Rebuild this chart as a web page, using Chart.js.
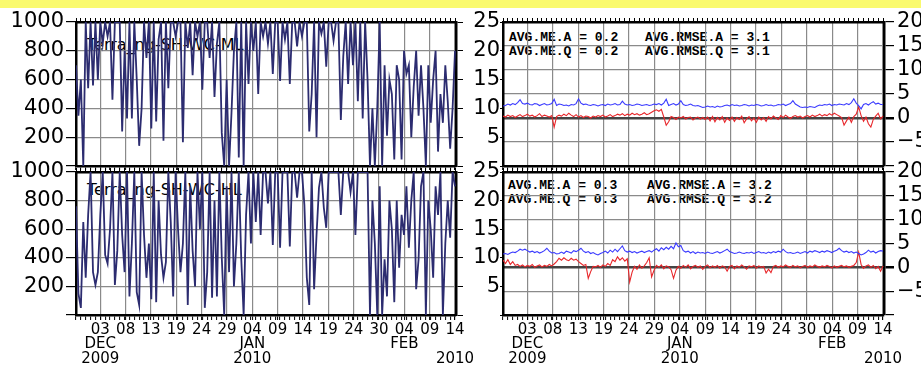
<!DOCTYPE html>
<html>
<head>
<meta charset="utf-8">
<script src="https://cdn.jsdelivr.net/npm/chart.js@4.4.1/dist/chart.umd.min.js"></script>
<style>
  body { margin: 0; background: #fff; width: 921px; height: 382px; overflow: hidden; position: relative; }
  #banner { position: absolute; left: 0; top: 0; width: 921px; height: 8px; background: #fafa6e; }
  canvas { position: absolute; z-index: 1; }
  .name { position: absolute; font: 16px 'DejaVu Sans'; line-height: 16px; color: #000; white-space: pre; z-index: 0; }
  .stat { position: absolute; font: bold 13px 'Liberation Mono'; line-height: 14px; color: #000; white-space: pre; z-index: 0; }
</style>
</head>
<body>
<div id="banner"></div>
<div class="name" style="left:87px;top:37px">Terra_ng-SH-WC-ML</div>
<div class="name" style="left:87px;top:182px">Terra_ng-SH-WC-HL</div>
<div class="stat" style="left:509px;top:31px">AVG.ME.A = 0.2<br>AVG.ME.Q = 0.2</div>
<div class="stat" style="left:645px;top:31px">AVG.RMSE.A = 3.1<br>AVG.RMSE.Q = 3.1</div>
<div class="stat" style="left:508px;top:179px">AVG.ME.A = 0.3<br>AVG.ME.Q = 0.3</div>
<div class="stat" style="left:647px;top:179px">AVG.RMSE.A = 3.2<br>AVG.RMSE.Q = 3.2</div>
<canvas id="cTL" width="470" height="170" style="left:0;top:0"></canvas>
<canvas id="cBL" width="482" height="232" style="left:0;top:150px"></canvas>
<canvas id="cTR" width="451" height="170" style="left:470px;top:0"></canvas>
<canvas id="cBR" width="451" height="232" style="left:470px;top:150px"></canvas>
<script>
// time axis in days from 1 Dec 2009, samples every half day
const xStart = -3;
const xStep = 0.5;
const xMin = -3;
const xMax = 75.2;
const firstTickDay = 2;
const lastTickDay = 75;
const tickLabels = [['03', 'DEC', '2009'], '08', '13', '19', '24', '29', ['04', 'JAN', '2010'],
  '09', '14', '19', '24', '30', ['04', 'FEB'], '09', ['14', '', '2010']];

// left panels (0-1000)
const seriesML = [
  700, 350, 600, 0, 1000, 540, 1000, 560, 1000, 600,
  1000, 850, 1000, 900, 1000, 460, 1000, 1000, 1000, 240,
  800, 330, 1000, 330, 1000, 600, 140, 400, 1000, 750,
  1000, 260, 1000, 310, 880, 1000, 175, 1000, 540, 1000,
  1000, 900, 1000, 1000, 165, 1000, 820, 1000, 630, 1000,
  900, 1000, 530, 1000, 1000, 750, 1000, 480, 850, 1000,
  230, 0, 600, 0, 370, 800, 1000, 60, 1000, 0,
  1000, 570, 1000, 800, 1000, 500, 1000, 900, 1000, 850,
  1000, 640, 1000, 1000, 590, 1000, 880, 1000, 570, 1000,
  1000, 830, 1000, 900, 1000, 1000, 240, 500, 1000, 200,
  1000, 920, 1000, 690, 1000, 1000, 870, 1000, 1000, 320,
  760, 1000, 570, 1000, 700, 1000, 450, 1000, 330, 1000,
  600, 0, 400, 0, 400, 1000, 0, 700, 210, 600,
  500, 45, 700, 600, 45, 800, 640, 700, 200, 550,
  800, 350, 700, 400, 0, 700, 300, 600, 800, 100,
  500, 300, 700, 450, 120, 400, 800
];
const seriesHL = [
  760, 150, 50, 650, 260, 700, 1000, 300, 210, 300,
  700, 1000, 420, 360, 600, 1000, 210, 450, 1000, 560,
  300, 1000, 130, 500, 1000, 160, 70, 1000, 560, 260,
  500, 110, 1000, 90, 800, 420, 260, 370, 1000, 650,
  130, 1000, 600, 300, 500, 1000, 70, 900, 450, 200,
  1000, 600, 1000, 50, 300, 1000, 120, 800, 130, 1000,
  400, 0, 900, 300, 1000, 200, 500, 1000, 400, 0,
  700, 1000, 500, 1000, 650, 1000, 560, 1000, 1000, 780,
  1000, 490, 1000, 1000, 470, 1000, 1000, 1000, 480, 1000,
  1000, 820, 1000, 1000, 770, 260, 70, 1000, 180, 560,
  890, 1000, 750, 610, 1000, 1000, 1000, 1000, 1000, 700,
  1000, 1000, 1000, 860, 1000, 560, 1000, 1000, 1000, 1000,
  1000, 0, 800, 500, 0, 900, 0, 390, 130, 800,
  600, 90, 800, 330, 700, 560, 900, 470, 800, 1000,
  180, 390, 900, 1000, 0, 800, 600, 260, 900, 700,
  1000, 0, 500, 800, 540, 1000, 900
];

// right panels (right axis -10..20)
const rmseTop = [
  2.5, 2.6, 2.9, 2.7, 3.0, 2.8, 3.2, 3.8, 3.0, 2.9,
  3.1, 2.8, 2.7, 3.0, 2.9, 2.6, 2.8, 3.0, 2.7, 2.8,
  3.0, 3.9, 2.6, 2.9, 2.8, 2.6, 2.7, 2.5, 2.8, 2.7,
  3.0, 4.0, 3.1, 2.8, 2.9, 2.7, 2.6, 2.8, 2.7, 2.5,
  2.7, 2.8, 2.6, 2.9, 2.7, 2.8, 3.0, 2.7, 2.8, 3.5,
  2.9, 2.7, 2.8, 2.6, 2.7, 2.9, 2.8, 2.6, 2.7, 2.8,
  2.6, 2.7, 2.9, 2.8, 3.0, 2.7, 3.1, 3.9, 2.6, 2.8,
  3.0, 2.7, 2.9, 3.6, 2.8, 2.6, 2.7, 2.9, 2.6, 2.5,
  2.6, 2.4, 2.2, 2.3, 2.5, 2.3, 2.4, 2.2, 2.5, 2.3,
  2.4, 2.6, 2.7, 2.5, 2.8, 2.6, 2.7, 2.5, 2.6, 2.8,
  2.7, 2.5, 2.7, 2.6, 2.8, 2.7, 2.5, 2.6, 2.8, 2.6,
  2.7, 2.5, 2.6, 2.8, 2.7, 2.9, 2.6, 2.8, 3.0, 3.6,
  2.9, 2.6, 2.3, 2.2, 2.3, 2.2, 2.4, 2.3, 2.2, 2.5,
  2.7, 2.6, 2.8, 2.7, 2.9, 2.6, 2.8, 2.7, 2.9, 2.8,
  2.7, 3.0, 2.8, 3.2, 4.0, 3.1, 2.6, 1.9, 2.8, 3.0,
  2.7, 3.1, 3.4, 2.9, 3.1, 2.8, 2.8
];
const meTop = [
  0.4, 0.2, 0.6, 0.3, 0.5, 0.1, 0.4, 0.7, 0.3, 0.5,
  0.8, 0.4, 0.6, 0.2, 0.5, 0.9, 0.3, 0.6, 0.4, 0.2,
  0.5, -1.9, 0.3, 0.6, 0.4, 0.8, 0.5, 1.0, 0.6, 0.3,
  0.7, 0.2, 0.5, 0.1, 0.4, 0.3, 0.0, 0.4, 0.2, 0.5,
  0.3, 0.6, 0.2, 0.4, 0.7, 0.3, 0.5, 0.8, 0.6, 0.9,
  0.5, 0.8, 0.6, 1.0, 0.7, 0.9, 0.6, 0.8, 1.1, 0.7,
  0.9, 1.2, 1.5, 1.7, 1.4, 1.8, 0.2, -1.5, -0.8, 0.3,
  0.1, -0.3, 0.2, 0.0, 0.3, -0.2, 0.1, 0.2, -0.4, 0.0,
  0.2, -0.2, 0.1, -0.3, 0.2, -0.6, 0.3, -0.8, 0.1, -0.4,
  0.3, -0.9, 0.0, -0.5, 0.2, -0.7, 0.1, -0.3, 0.4, -1.0,
  -0.2, 0.3, -0.6, 0.0, -0.9, 0.2, -0.4, 0.1, -0.7, 0.3,
  -0.2, 0.4, 0.0, -0.3, 0.5, 0.1, 0.6, 0.2, -0.1, 0.3,
  0.5, 0.2, 0.4, 0.0, 0.3, 0.5, 0.2, 0.6, 0.3, 0.5,
  0.8, 0.4, 0.7, 0.5, 0.9, 0.6, 1.0, 0.7, 0.4, 0.1,
  -1.5, -0.6, 0.2, -0.9, 0.3, 0.8, 2.3, 0.5, -0.7, 0.2,
  -1.2, -1.9, -0.3, 0.4, 1.0, -0.2, 0.4
];
const rmseBottom = [
  2.8, 2.9, 2.7, 3.0, 3.2, 3.1, 3.4, 3.8, 3.6, 3.8,
  3.5, 3.2, 3.4, 3.1, 3.3, 3.0, 3.2, 3.5, 4.0, 3.4,
  3.0, 3.1, 2.8, 2.9, 3.2, 2.9, 3.4, 3.2, 3.0, 3.5,
  3.3, 3.6, 4.0, 3.4, 3.1, 3.3, 2.9, 3.1, 2.8, 2.6,
  2.9, 3.1, 3.4, 3.0, 3.6, 3.2, 3.8, 3.3, 3.9, 4.5,
  3.5, 3.2, 3.4, 3.1, 3.3, 3.0, 3.2, 3.4, 3.1, 3.3,
  3.5, 3.2, 3.6, 3.9, 3.4, 4.1, 3.7, 4.2, 3.8, 4.4,
  3.9, 5.1, 4.3, 4.6, 3.5, 3.2, 3.4, 3.0, 3.3, 2.9,
  3.2, 3.0, 3.1, 2.9, 3.2, 3.0, 2.9, 3.1, 3.3, 3.0,
  3.2, 3.5, 3.8, 3.3, 3.1, 2.9, 3.0, 3.2, 3.0, 2.9,
  3.1, 3.0, 3.2, 2.9, 3.1, 3.3, 3.0, 3.1, 2.9, 3.2,
  3.0, 3.3, 3.1, 3.4, 3.2, 3.8, 3.3, 3.0, 3.1, 2.9,
  3.0, 3.2, 2.9, 3.1, 3.3, 3.0, 3.4, 3.2, 3.5, 3.3,
  3.1, 3.4, 3.2, 3.5, 3.3, 3.1, 3.4, 3.6, 4.0, 3.5,
  3.2, 3.4, 3.1, 3.3, 3.0, 3.2, 2.9, 2.6, 2.8, 3.1,
  3.6, 3.2, 3.4, 3.0, 3.3, 3.5, 3.4
];
const meBottom = [
  1.5, 0.8, 1.6, 0.6, 1.2, 0.4, 0.6, 0.2, 0.5, 0.1,
  0.4, 0.2, 0.6, 0.0, 0.3, 0.5, 0.1, 0.4, 0.2, 0.6,
  0.3, 0.7, 1.2, 1.9, 1.5, 2.0, 1.6, 1.4, 1.9, 1.5,
  1.7, 1.2, 0.8, 0.4, 0.6, -2.3, -0.9, 0.2, 0.1, 0.4,
  0.0, 0.5, 0.2, 0.8, 0.4, 1.6, 1.2, 2.2, 1.5, 2.0,
  1.3, 1.8, -3.1, -1.0, 0.2, -0.4, 0.5, -0.2, 0.3, 1.0,
  2.0, -2.0, -0.6, 0.4, 0.0, 0.5, -0.3, 0.3, 0.1, -0.5,
  -2.3, -0.6, 0.2, -0.2, 0.4, 0.0, 0.5, -0.3, 0.2, 0.4,
  0.0, 0.3, -0.4, 0.2, 0.5, -0.1, 0.3, 0.0, 0.4, -0.2,
  0.3, 0.1, -0.8, 0.2, 0.4, -0.3, 0.3, 0.0, 0.5, 0.1,
  -0.4, 0.3, 0.1, 0.4, -0.2, 0.3, 0.0, 0.2, -1.2, -0.4,
  -1.1, 0.2, 0.4, 0.0, 0.3, 0.1, 0.5, 0.2, 0.0, 0.4,
  0.1, 0.3, -0.1, 0.2, 0.4, 0.0, 0.3, 0.1, 0.5, 0.2,
  0.0, 0.3, 0.1, 0.4, 0.2, -0.1, 0.3, 0.0, 0.2, 0.4,
  0.1, 0.3, 0.0, 0.2, 0.4, 1.0, 3.2, 0.6, -0.2, 0.3,
  0.5, 0.0, 0.4, -0.3, 0.2, -0.8, 0.3
];

const toPoints = arr => arr.map((v, i) => ({ x: xStart + i * xStep, y: v }));

const gridGray = '#8a8a8a';
const axisFont = { family: 'DejaVu Sans', size: 21 };

function dayTicks() {
  const t = [];
  for (let d = Math.ceil(xMin); d <= Math.floor(xMax); d++) t.push({ value: d });
  return t;
}

function bottomTicks() {
  const n = tickLabels.length;
  const step = (lastTickDay - firstTickDay) / (n - 1);
  const t = dayTicks();
  tickLabels.forEach((lbl, k) => t.push({ value: firstTickDay + k * step, isMajor: true, lbl }));
  return t.sort((a, b) => a.value - b.value);
}

function noPad(s) {
  s.paddingTop = 0; s.paddingBottom = 0; s.paddingLeft = 0; s.paddingRight = 0;
}

function makeChart(id, box, showLabels, left, datasets) {
  const fixW = w => s => { s.width = w; noPad(s); };
  const fixH = h => s => { s.height = h; noPad(s); };

  const scales = {
    x: {
      type: 'linear', position: 'bottom', min: xMin, max: xMax,
      afterFit: fixH(box.bottom),
      afterBuildTicks: s => { s.ticks = bottomTicks(); },
      ticks: {
        autoSkip: false, maxRotation: 0, padding: 3, color: '#000',
        font: { family: 'DejaVu Sans', size: 15, lineHeight: 0.95 },
        callback: (v, i, ticks) => (showLabels && ticks[i].isMajor) ? ticks[i].lbl : ''
      },
      grid: {
        color: c => (c.tick && c.tick.isMajor) ? gridGray : 'rgba(0,0,0,0)',
        lineWidth: 1.2, tickColor: '#000', tickLength: 5, tickWidth: 1
      },
      border: { color: '#000', width: 2.5 }
    },
    xt: {
      type: 'linear', position: 'top', min: xMin, max: xMax,
      afterFit: fixH(box.top),
      afterBuildTicks: s => { s.ticks = dayTicks(); },
      ticks: { autoSkip: false, callback: () => '', padding: 0 },
      grid: { drawOnChartArea: false, tickColor: '#000', tickLength: 4 },
      border: { color: '#000', width: 2.5 }
    }
  };

  if (left) {
    scales.y = {
      position: 'left', min: 0, max: 1000,
      afterFit: fixW(box.left),
      ticks: { stepSize: 200, autoSkip: false, color: '#000', font: axisFont, padding: 2,
        callback: v => v === 0 ? '' : v },
      grid: { color: gridGray, lineWidth: 1.2, tickColor: '#000', tickLength: 10 },
      border: { color: '#000', width: 2.5 }
    };
    scales.yR = {
      position: 'right', min: 0, max: 1000,
      afterFit: fixW(box.right),
      ticks: { stepSize: 200, autoSkip: false, callback: () => '' },
      grid: { drawOnChartArea: false, tickColor: '#000', tickLength: 7 },
      border: { color: '#000', width: 2.5 }
    };
  } else {
    scales.yL = {
      position: 'left', min: 0, max: 25,
      afterFit: fixW(box.left),
      ticks: { stepSize: 5, autoSkip: false, color: '#000', font: axisFont, padding: 0,
        callback: v => v === 0 ? '' : v },
      grid: { drawOnChartArea: false, tickColor: '#000', tickLength: 3 },
      border: { color: '#000', width: 2.5 }
    };
    scales.y = {
      position: 'right', min: -10, max: 20,
      afterFit: fixW(box.right),
      ticks: { stepSize: 5, autoSkip: false, color: '#000', font: axisFont, padding: 3,
        callback: v => v === -10 ? '' : String(v).replace('-', '\u2212') },
      grid: {
        color: c => (c.tick && c.tick.value === 0) ? '#444' : gridGray,
        lineWidth: c => (c.tick && c.tick.value === 0) ? 2.5 : 1.2,
        tickColor: '#000', tickLength: 10
      },
      border: { color: '#000', width: 2.5 }
    };
  }

  return new Chart(document.getElementById(id), {
    type: 'line',
    data: { datasets },
    options: {
      responsive: false,
      animation: false,
      devicePixelRatio: 1,
      layout: { padding: 0 },
      plugins: { legend: { display: false }, tooltip: { enabled: false } },
      elements: { point: { radius: 0 }, line: { tension: 0 } },
      scales
    }
  });
}

const navy = ds => ({ data: toPoints(ds), borderColor: '#2c2c70', borderWidth: 1.8, yAxisID: 'y' });
const red = ds => ({ data: toPoints(ds), borderColor: '#e8262a', borderWidth: 1.1, yAxisID: 'y' });
const blue = ds => ({ data: toPoints(ds), borderColor: '#3a3aff', borderWidth: 1.1, yAxisID: 'y' });

makeChart('cTL', { left: 76, right: 14, top: 22, bottom: 4 }, false, true, [navy(seriesML)]);
makeChart('cBL', { left: 76, right: 26, top: 22, bottom: 67 }, true, true, [navy(seriesHL)]);
makeChart('cTR', { left: 33, right: 37, top: 22, bottom: 4 }, false, false, [blue(rmseTop), red(meTop)]);
makeChart('cBR', { left: 33, right: 37, top: 22, bottom: 67 }, true, false, [blue(rmseBottom), red(meBottom)]);
</script>
</body>
</html>
